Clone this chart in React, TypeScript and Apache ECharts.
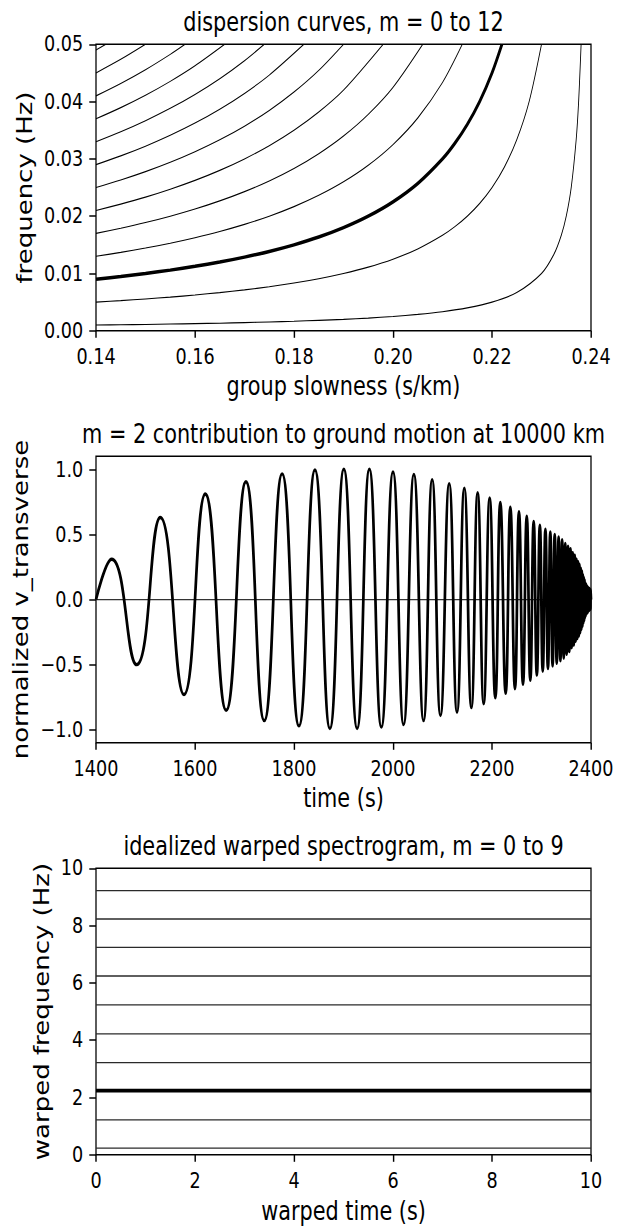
import React, { useEffect, useRef } from 'react';
import * as echarts from 'echarts';

// ---------- data ----------
// Panel 1: dispersion curves, frequency (Hz) vs group slowness (s/km), modes m = 0..12
const MODE_0 = [[0.14, 0.001], [0.145, 0.00105], [0.15, 0.00111], [0.155, 0.00118], [0.16, 0.00125], [0.165, 0.00133], [0.17, 0.00143], [0.175, 0.00154], [0.18, 0.00167], [0.185, 0.00182], [0.19, 0.002], [0.195, 0.00222], [0.2, 0.0025], [0.205, 0.00286], [0.21, 0.00333], [0.215, 0.004], [0.22, 0.005], [0.225, 0.00667], [0.23, 0.01], [0.2325, 0.01333], [0.234, 0.01667], [0.235, 0.02], [0.236, 0.025], [0.237, 0.0333], [0.2375, 0.04], [0.238, 0.05]];
const MODE_1 = [[0.14, 0.005], [0.145, 0.00526], [0.15, 0.00556], [0.155, 0.00588], [0.16, 0.00625], [0.165, 0.00667], [0.17, 0.00714], [0.175, 0.00769], [0.18, 0.00833], [0.185, 0.00909], [0.19, 0.01], [0.195, 0.01111], [0.2, 0.0125], [0.205, 0.01429], [0.21, 0.01667], [0.2125, 0.01818], [0.215, 0.02], [0.2175, 0.02222], [0.22, 0.025], [0.2225, 0.02857], [0.225, 0.03333], [0.2275, 0.04], [0.23, 0.05]];
const MODE_2 = [[0.14, 0.009], [0.145, 0.00947], [0.15, 0.01], [0.155, 0.01059], [0.16, 0.01125], [0.165, 0.012], [0.17, 0.01286], [0.175, 0.01385], [0.18, 0.015], [0.185, 0.01636], [0.19, 0.018], [0.195, 0.02], [0.2, 0.0225], [0.205, 0.02571], [0.21, 0.03], [0.2125, 0.03273], [0.215, 0.036], [0.2175, 0.04], [0.22, 0.045], [0.222, 0.05]];
const MODE_3 = [[0.14, 0.013], [0.145, 0.01368], [0.15, 0.01444], [0.155, 0.01529], [0.16, 0.01625], [0.165, 0.01733], [0.17, 0.01857], [0.175, 0.02], [0.18, 0.02167], [0.185, 0.02364], [0.19, 0.026], [0.195, 0.02889], [0.2, 0.0325], [0.205, 0.03714], [0.21, 0.04333], [0.214, 0.05]];
const MODE_4 = [[0.14, 0.017], [0.145, 0.0179], [0.15, 0.01889], [0.155, 0.02], [0.16, 0.02125], [0.165, 0.02267], [0.17, 0.02429], [0.175, 0.02615], [0.18, 0.02833], [0.185, 0.03091], [0.19, 0.034], [0.195, 0.03778], [0.2, 0.0425], [0.206, 0.05]];
const MODE_5 = [[0.14, 0.021], [0.145, 0.02211], [0.15, 0.02333], [0.155, 0.02471], [0.16, 0.02625], [0.165, 0.028], [0.17, 0.03], [0.175, 0.03231], [0.18, 0.035], [0.185, 0.03818], [0.19, 0.042], [0.198, 0.05]];
const MODE_6 = [[0.14, 0.025], [0.145, 0.02632], [0.15, 0.02778], [0.155, 0.02941], [0.16, 0.03125], [0.165, 0.03333], [0.17, 0.03571], [0.175, 0.03846], [0.18, 0.04167], [0.185, 0.04545], [0.19, 0.05]];
const MODE_7 = [[0.14, 0.029], [0.145, 0.03053], [0.15, 0.03222], [0.155, 0.03412], [0.16, 0.03625], [0.165, 0.03867], [0.17, 0.04143], [0.175, 0.04462], [0.182, 0.05]];
const MODE_8 = [[0.14, 0.033], [0.145, 0.03474], [0.15, 0.03667], [0.155, 0.03882], [0.16, 0.04125], [0.165, 0.044], [0.17, 0.04714], [0.174, 0.05]];
const MODE_9 = [[0.14, 0.037], [0.145, 0.03895], [0.15, 0.04111], [0.155, 0.04353], [0.16, 0.04625], [0.166, 0.05]];
const MODE_10 = [[0.14, 0.041], [0.145, 0.04316], [0.15, 0.04556], [0.155, 0.04824], [0.158, 0.05]];
const MODE_11 = [[0.14, 0.045], [0.145, 0.04737], [0.15, 0.05]];
const MODE_12 = [[0.14, 0.049], [0.142, 0.05]];
const MODES = [MODE_0, MODE_1, MODE_2, MODE_3, MODE_4, MODE_5, MODE_6, MODE_7, MODE_8, MODE_9, MODE_10, MODE_11, MODE_12];
const HIGHLIGHT_MODE = 2;

const SLOWNESS_RANGE = [0.14, 0.24];
const SLOWNESS_TICKS = [0.14, 0.16, 0.18, 0.2, 0.22, 0.24];
const FREQ_RANGE = [0, 0.05];
const FREQ_TICKS = [0, 0.01, 0.02, 0.03, 0.04, 0.05];

// Panel 2: m = 2 waveform, extrema (time s, normalized amplitude)
const WAVE_TIME = [1400, 1431.6, 1482, 1530, 1577.7, 1620.8, 1663, 1702.9, 1739.9, 1776, 1810, 1842.3, 1872.5, 1900.7, 1927.5, 1952.3, 1976.5, 2000, 2021.4, 2042.2, 2061.7, 2079.1, 2095.9, 2113.5, 2129.3, 2144.1, 2158.3, 2171, 2183.2, 2195.3, 2206.7, 2216.8, 2227.6, 2237, 2246.4, 2254.5, 2262.6, 2270.2, 2277.4, 2284.2, 2290.6, 2296.7, 2302.5, 2307.9, 2313, 2317.8, 2322.4, 2326.7, 2330.8, 2334.6, 2338.2, 2341.7, 2344.9, 2348, 2350.9, 2353.6, 2356.2, 2358.6, 2360.9, 2363.1, 2365.1, 2367.1, 2368.9, 2370.6, 2372.3, 2373.8, 2375.3, 2376.6, 2377.9, 2379.2, 2380.3, 2381.4, 2382.5, 2383.4, 2384.3, 2385.2, 2386, 2386.8, 2387.5, 2388.2, 2388.9, 2389.6, 2390.3, 2391, 2391.7, 2392.4, 2393.1, 2393.8, 2394.5, 2395.2, 2395.9, 2396.6, 2397.3, 2398, 2398.7, 2399.4, 2400];
const WAVE_AMP = [0, 0.31, -0.5, 0.63, -0.73, 0.81, -0.85, 0.905, -0.93, 0.965, -0.97, 0.995, -0.99, 1.0, -0.99, 1.0, -0.98, 0.98, -0.96, 0.96, -0.93, 0.92, -0.89, 0.89, -0.865, 0.855, -0.83, 0.82, -0.8, 0.78, -0.755, 0.745, -0.72, 0.71, -0.685, 0.675, -0.65, 0.64, -0.62, 0.6, -0.58, 0.57, -0.55, 0.54, -0.53, 0.52, -0.51, 0.5, -0.49, 0.48, -0.47, 0.46, -0.45, 0.43, -0.42, 0.41, -0.4, 0.39, -0.37, 0.36, -0.35, 0.34, -0.32, 0.31, -0.3, 0.29, -0.28, 0.27, -0.255, 0.24, -0.23, 0.22, -0.205, 0.19, -0.18, 0.17, -0.16, 0.15, -0.14, 0.13, -0.125, 0.12, -0.115, 0.11, -0.105, 0.1, -0.1, 0.095, -0.09, 0.09, -0.085, 0.085, -0.08, 0.08, -0.075, 0.075, 0];
const TIME_RANGE = [1400, 2400];
const TIME_TICKS = [1400, 1600, 1800, 2000, 2200, 2400];
const AMP_RANGE = [-1.1, 1.1];
const AMP_TICKS = [-1, -0.5, 0, 0.5, 1];

// Panel 3: idealized warped spectrogram, m = 0..9 (warped frequency of each mode)
const WARPED_FREQ = [0.23, 1.22, 2.24, 3.22, 4.22, 5.23, 6.24, 7.24, 8.23, 9.22];
const WARPED_TIME_RANGE = [0, 10];
const WARPED_FREQ_RANGE = [0, 10];
const WARPED_TICKS = [0, 2, 4, 6, 8, 10];

const TITLES = [
  'dispersion curves, m = 0 to 12',
  'm = 2 contribution to ground motion at 10000 km',
  'idealized warped spectrogram, m = 0 to 9',
];

// ---------- layout ----------
const PAGE_W = 628;
const PAGE_H = 1228;
const SCALE_X = 0.8;
const CHART_W = PAGE_W / SCALE_X;
const GRID_LEFT = 120;
const GRID_RIGHT_EDGE = 738.75;
const GRID_TOPS = [44.3, 456.3, 868.3];
const GRID_H = 286.5;
const FONT = 'DejaVu Sans';

function xAxis(gridIndex: number, range: number[], ticks: number[], fmt: (v: number) => string, name: string, nameGap: number) {
  return {
    type: 'value', gridIndex, min: range[0], max: range[1],
    axisLine: { show: false, onZero: false },
    axisTick: { show: true, inside: false, length: 7, lineStyle: { color: '#000', width: 1.8 }, customValues: ticks },
    axisLabel: { customValues: ticks, formatter: fmt, fontFamily: FONT, fontSize: 22, color: '#000', margin: 15 },
    splitLine: { show: false },
    name, nameLocation: 'middle', nameGap,
    nameTextStyle: { fontFamily: FONT, fontSize: 26, color: '#000' },
  };
}
function yAxis(gridIndex: number, range: number[], ticks: number[], fmt: (v: number) => string, name: string, nameGap: number) {
  return {
    type: 'value', gridIndex, min: range[0], max: range[1],
    axisLine: { show: false, onZero: false },
    axisTick: { show: true, inside: false, length: 8.4, lineStyle: { color: '#000', width: 1.5 }, customValues: ticks },
    axisLabel: { customValues: ticks, formatter: fmt, fontFamily: FONT, fontSize: 22, color: '#000', margin: 16 },
    splitLine: { show: false },
    name, nameLocation: 'middle', nameGap,
    nameTextStyle: { fontFamily: FONT, fontSize: 26, color: '#000' },
  };
}

function buildOption() {
  const grids = GRID_TOPS.map((top) => ({
    left: GRID_LEFT, right: CHART_W - GRID_RIGHT_EDGE, top, height: GRID_H,
    show: true, borderColor: '#000', borderWidth: 1.6, backgroundColor: 'transparent',
    containLabel: false, outerBoundsMode: 'none',
  }));

  const series: any[] = [];
  MODES.forEach((pts, m) => {
    series.push({
      type: 'line', xAxisIndex: 0, yAxisIndex: 0, data: pts,
      showSymbol: false, symbol: 'none', smooth: 0.3, clip: true,
      lineStyle: { color: '#000', width: m === HIGHLIGHT_MODE ? 3.5 : 1.1 },
      z: m === HIGHLIGHT_MODE ? 3 : 2,
    });
  });

  series.push({
    type: 'line', xAxisIndex: 1, yAxisIndex: 1,
    data: TIME_RANGE.map((t) => [t, 0]),
    showSymbol: false, symbol: 'none', lineStyle: { color: '#333', width: 1.2 }, z: 1,
  });
  series.push({
    type: 'line', xAxisIndex: 1, yAxisIndex: 1,
    data: WAVE_TIME.map((t, i) => [t, WAVE_AMP[i]]),
    showSymbol: false, symbol: 'none', smooth: 0.5, clip: true,
    lineStyle: { color: '#000', width: 3.4 }, z: 2,
  });

  WARPED_FREQ.forEach((f, m) => {
    series.push({
      type: 'line', xAxisIndex: 2, yAxisIndex: 2,
      data: WARPED_TIME_RANGE.map((t) => [t, f]),
      showSymbol: false, symbol: 'none',
      lineStyle: { color: m === HIGHLIGHT_MODE ? '#000' : '#2a2a2a', width: m === HIGHLIGHT_MODE ? 3.6 : 1.3 },
    });
  });

  const titleX = (GRID_LEFT + GRID_RIGHT_EDGE) / 2;
  const graphic = TITLES.map((text, i) => ({
    type: 'text', x: titleX, y: GRID_TOPS[i] - 22.5, silent: true,
    style: { text, fontFamily: FONT, fontSize: 26, fill: '#000', align: 'center', verticalAlign: 'middle' },
  }));

  return {
    animation: false,
    backgroundColor: '#fff',
    grid: grids,
    xAxis: [
      xAxis(0, SLOWNESS_RANGE, SLOWNESS_TICKS, (v) => v.toFixed(2), 'group slowness (s/km)', 42),
      xAxis(1, TIME_RANGE, TIME_TICKS, (v) => String(v), 'time (s)', 42),
      xAxis(2, WARPED_TIME_RANGE, WARPED_TICKS, (v) => String(v), 'warped time (s)', 43),
    ],
    yAxis: [
      yAxis(0, FREQ_RANGE, FREQ_TICKS, (v) => v.toFixed(2), 'frequency (Hz)', 74),
      yAxis(1, AMP_RANGE, AMP_TICKS, (v) => v.toFixed(1).replace('-', '\u2212'), 'normalized v_transverse', 80),
      yAxis(2, WARPED_FREQ_RANGE, WARPED_TICKS, (v) => String(v), 'warped frequency (Hz)', 53),
    ],
    graphic,
    series,
  };
}

export default function App() {
  const ref = useRef<HTMLDivElement>(null);
  useEffect(() => {
    if (!ref.current) return;
    const chart = echarts.init(ref.current, null, { renderer: 'svg' });
    chart.setOption(buildOption() as any);
    return () => chart.dispose();
  }, []);
  return (
    <div style={{ position: 'fixed', left: 0, top: 0, width: PAGE_W, height: PAGE_H, overflow: 'hidden', background: '#fff' }}>
      <div
        ref={ref}
        style={{ width: CHART_W, height: PAGE_H, transform: `scaleX(${SCALE_X})`, transformOrigin: '0 0' }}
      />
    </div>
  );
}
